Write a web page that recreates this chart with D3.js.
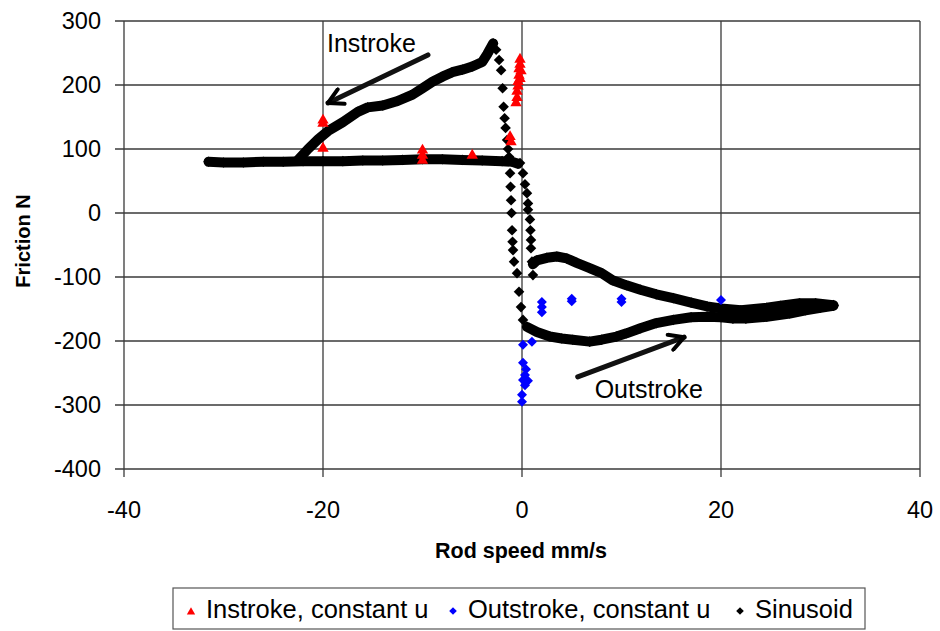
<!DOCTYPE html>
<html lang="en">
<head>
<meta charset="utf-8">
<title>Friction vs rod speed</title>
<script src="https://cdn.jsdelivr.net/npm/d3@7"></script>
<style>
	body{ margin:0; background:#fff; }
	text{ font-family:"Liberation Sans", Arial, sans-serif; fill:#000; }
	.grid line{ stroke:#3a3a3a; stroke-width:1.3; }
</style>
</head>
<body>
<svg id="chart" width="940" height="631"></svg>
<script>
// ticks
let xTicks=[-40,-20,0,20,40];
let yTicks=[300,200,100,0,-100,-200,-300,-400];

// Sinusoid, dense bands
let sinLower=[[-31.5,80],[-30,79],[-28,79],[-26,80],[-24,80],[-22,81],[-20,81],[-18,81],[-16,82],[-14,82],[-12,83],[-10,84],[-8,84],[-6,83],[-4,82],[-2,81],[-1,80],[-0.4,77]];
let sinUpper=[[-22.5,83],[-21.5,100],[-20.5,115],[-19.5,128],[-18,142],[-16.5,158],[-15.5,165],[-14,168],[-12.5,175],[-11,185],[-10,195],[-9,205],[-8,213],[-7,220],[-6,224],[-5,229],[-4,236],[-3.5,248],[-2.9,265]];
let sinOutUpper=[[1.1,-80],[1.5,-74],[2.5,-70],[3.5,-68],[4.5,-71],[5.5,-78],[6.8,-86],[8,-94],[9.1,-105],[10.5,-113],[11.9,-120],[13.5,-127],[15.2,-133],[17,-140],[18.6,-146],[20,-149],[22,-152],[24.6,-148],[26,-145],[27.9,-141],[29.5,-141],[31.3,-144]];
let sinOutLower=[[0.5,-178],[1.5,-186],[2.8,-193],[4,-196],[5.1,-198],[6.8,-201],[8,-198],[9.5,-193],[10.5,-188],[11.9,-180],[13.5,-172],[15.2,-167],[17,-163],[18.6,-162],[20,-163],[21.2,-165],[22.5,-165],[24.6,-162],[26.9,-157],[28.5,-152],[30,-148],[31.3,-145]];
// Sinusoid, sparse steep parts near zero speed
let sinDropA=[[-2.6,255],[-2.3,239],[-2.1,223],[-1.95,195],[-1.85,166],[-1.75,148],[-1.65,133],[-1.5,114],[-1.4,100],[-1.3,88],[-1.2,62],[-1.15,41],[-1.1,20],[-1.05,0],[-1.0,-27],[-0.95,-45],[-0.9,-58],[-0.8,-76],[-0.5,-94],[-0.3,-123],[-0.1,-147],[0.1,-167],[0.5,-178]];
let sinDropB=[[-0.2,78],[0.1,62],[0.3,45],[0.5,31],[0.6,15],[0.6,5],[0.8,-10],[0.85,-27],[0.9,-42],[0.9,-55],[1.0,-76],[1.1,-97]];

// Instroke, constant u
let instroke=[[-20,145],[-20,140],[-20,101],[-10,98],[-10,90],[-10,82],[-5,90],[-1.2,119],[-1.1,111],[-0.2,240],[-0.2,232],[-0.3,225],[-0.1,222],[-0.3,215],[-0.2,210],[-0.4,205],[-0.4,198],[-0.5,190],[-0.5,180],[-0.6,172]];
// Outstroke, constant u
let outstroke=[[20,-136],[10,-139],[10,-134],[5,-134],[5,-138],[2,-139],[2,-147],[2,-155],[0.1,-206],[1.0,-201],[0.1,-234],[0.4,-244],[0.3,-253],[0.6,-262],[0.1,-261],[0.3,-269],[0,-284],[0,-295]];

let legendItems=["Instroke, constant u","Outstroke, constant u","Sinusoid"];

const svg=d3.select("#chart");
const L=124,R=920,T=21,B=469;
const x=d3.scaleLinear().domain([-40,40]).range([L,R]);
const y=d3.scaleLinear().domain([-400,300]).range([B,T]);

// grid
const grid=svg.append("g").attr("class","grid");
grid.selectAll(".h").data(yTicks).enter().append("line")
	.attr("x1",L-9).attr("x2",R).attr("y1",d=>y(d)).attr("y2",d=>y(d));
grid.selectAll(".v").data(xTicks).enter().append("line")
	.attr("x1",d=>x(d)).attr("x2",d=>x(d)).attr("y1",T).attr("y2",B+8);

// tick labels
svg.selectAll(".yl").data(yTicks).enter().append("text")
	.attr("x",L-23).attr("y",d=>y(d)).attr("dy","0.35em")
	.attr("text-anchor","end").attr("font-size",23.5).text(d=>d);
svg.selectAll(".xl").data(xTicks).enter().append("text")
	.attr("x",d=>x(d)).attr("y",518)
	.attr("text-anchor","middle").attr("font-size",23.5).text(d=>d);

// axis titles
svg.append("text").attr("x",521).attr("y",558).attr("text-anchor","middle")
	.attr("font-size",21.5).attr("font-weight","bold").text("Rod speed mm/s");
svg.append("text").attr("transform","translate(30,241) rotate(-90)").attr("text-anchor","middle")
	.attr("font-size",20).attr("font-weight","bold").text("Friction N");

// symbols
const diamond=r=>"M0,"+(-r)+"L"+r+",0L0,"+r+"L"+(-r)+",0Z";
const tri=d3.symbol(d3.symbolTriangle,56)();

// sinusoid bands
const line=d3.line().x(d=>x(d[0])).y(d=>y(d[1]));
const plot=svg.append("g");
[sinLower,sinUpper,sinOutUpper,sinOutLower].forEach(s=>{
	plot.append("path").attr("d",line(s)).attr("fill","none")
		.attr("stroke","#000").attr("stroke-width",10).attr("stroke-linejoin","round").attr("stroke-linecap","round");
});
const sinAll=sinLower.concat(sinUpper,sinOutUpper,sinOutLower,sinDropA,sinDropB);
plot.selectAll(".sin").data(sinAll).enter().append("path")
	.attr("d",diamond(5.3)).attr("fill","#000")
	.attr("transform",d=>"translate("+x(d[0])+","+y(d[1])+")");

// constant u
plot.selectAll(".ins").data(instroke).enter().append("path")
	.attr("d",tri).attr("fill","#f00")
	.attr("transform",d=>"translate("+x(d[0])+","+y(d[1])+")");
plot.selectAll(".out").data(outstroke).enter().append("path")
	.attr("d",diamond(5)).attr("fill","#00f")
	.attr("transform",d=>"translate("+x(d[0])+","+y(d[1])+")");

// annotations
svg.append("defs").append("marker").attr("id","ah")
	.attr("viewBox","0 0 10 10").attr("refX",8.5).attr("refY",5)
	.attr("markerWidth",4).attr("markerHeight",4).attr("orient","auto")
	.append("path").attr("d","M1.2,1L8.5,5L1.2,9").attr("fill","none")
	.attr("stroke","#000").attr("stroke-width",2).attr("stroke-linecap","round").attr("stroke-linejoin","round");
function arrow(a,b){
	svg.append("line").attr("x1",x(a[0])).attr("y1",y(a[1])).attr("x2",x(b[0])).attr("y2",y(b[1]))
		.attr("stroke","#111").attr("stroke-width",5).attr("stroke-linecap","round")
		.attr("marker-end","url(#ah)");
}
arrow([-9.45,247],[-19.5,172]);
arrow([5.6,-256],[16.3,-194]);
svg.append("text").attr("x",x(-19.6)).attr("y",y(252)).attr("font-size",25).attr("fill","#222").text("Instroke");
svg.append("text").attr("x",x(7.3)).attr("y",y(-289)).attr("font-size",25).attr("fill","#222").text("Outstroke");

// legend
svg.append("rect").attr("x",173).attr("y",588).attr("width",692).attr("height",41)
	.attr("fill","#fff").attr("stroke","#555").attr("stroke-width",1.2);
const lx=[191,453,740];
svg.append("path").attr("d",d3.symbol(d3.symbolTriangle,30)()).attr("fill","#f00")
	.attr("transform","translate("+lx[0]+",612)");
svg.append("path").attr("d",diamond(3.8)).attr("fill","#00f").attr("transform","translate("+lx[1]+",611)");
svg.append("path").attr("d",diamond(3.8)).attr("fill","#000").attr("transform","translate("+lx[2]+",611)");
svg.selectAll(".lt").data(legendItems).enter().append("text")
	.attr("x",(d,i)=>lx[i]+15).attr("y",618).attr("font-size",25.5).text(d=>d);
</script>
</body>
</html>
